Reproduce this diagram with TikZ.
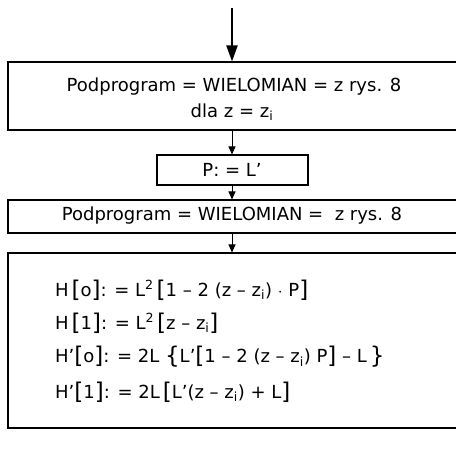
\documentclass[tikz,border=0pt]{standalone}
\usepackage{fontspec}
\setmainfont{DejaVu Sans}
\usetikzlibrary{arrows.meta}
\tikzset{
  box/.style={draw, line width=1.1pt, inner sep=0pt},
  txt/.style={font=\fontsize{18}{21}\selectfont, inner sep=0pt},
  flow/.style={line width=1pt, -{Triangle[length=8pt,width=7pt]}},
}
\newcommand{\zi}{z\textsubscript{i}}
\newcommand{\sqr}{\textsuperscript{2}}
\newcommand{\lb}{{\fontsize{23}{23}\selectfont\raisebox{-1pt}{[}}}
\newcommand{\rb}{{\fontsize{23}{23}\selectfont\raisebox{-1pt}{]}}}
\newcommand{\lc}{{\fontsize{23}{23}\selectfont\raisebox{-1pt}{\{}}}
\newcommand{\rc}{{\fontsize{23}{23}\selectfont\raisebox{-1pt}{\}}}}
\begin{document}
\begin{tikzpicture}[x=1pt,y=-1pt]
\clip (0,0) rectangle (456,450);
\fill[white] (0,0) rectangle (456,450);
\coordinate (start) at (232,8);
\node[box, minimum width=452pt, minimum height=68pt] (b1) at (234,96) {};
\node[box, minimum width=151pt, minimum height=30pt] (b2) at (232.5,170) {};
\node[box, minimum width=452pt, minimum height=33pt] (b3) at (234,216.5) {};
\node[box, minimum width=452pt, minimum height=175pt] (b4) at (234,340.5) {};
\node[txt] (t1a) at (234,87) {Podprogram = WIELOMIAN = z rys. 8};
\node[txt] (t1b) at (232,112) {dla z = \zi};
\node[txt] (t2) at (232,170) {P: = L'};
\node[txt] (t3) at (232,216) {Podprogram = WIELOMIAN = \ z rys. 8};
\node[txt, anchor=west] (t4a) at (55,290) {H\,\lb o\rb: = L\sqr\,\lb 1 – 2 (z – \zi) $\cdot$ P\rb};
\node[txt, anchor=west] (t4b) at (55,323) {H\,\lb 1\rb: = L\sqr\,\lb z – \zi\rb};
\node[txt, anchor=west] (t4c) at (55,357) {H'\lb o\rb: = 2L \lc L'\lb 1 – 2 (z – \zi) P\rb\ – L\,\rc};
\node[txt, anchor=west] (t4d) at (55,392) {H'\lb 1\rb: = 2L\,\lb L'(z – \zi) + L\rb};
\draw[line width=2.2pt, -{Triangle[length=16pt,width=11pt]}] (start) -- (b1.north -| start);
\draw[flow] (b1.south -| start) -- (b2.north -| start);
\draw[flow] (b2.south -| start) -- (b3.north -| start);
\draw[flow] (b3.south -| start) -- (b4.north -| start);
\end{tikzpicture}
\end{document}
